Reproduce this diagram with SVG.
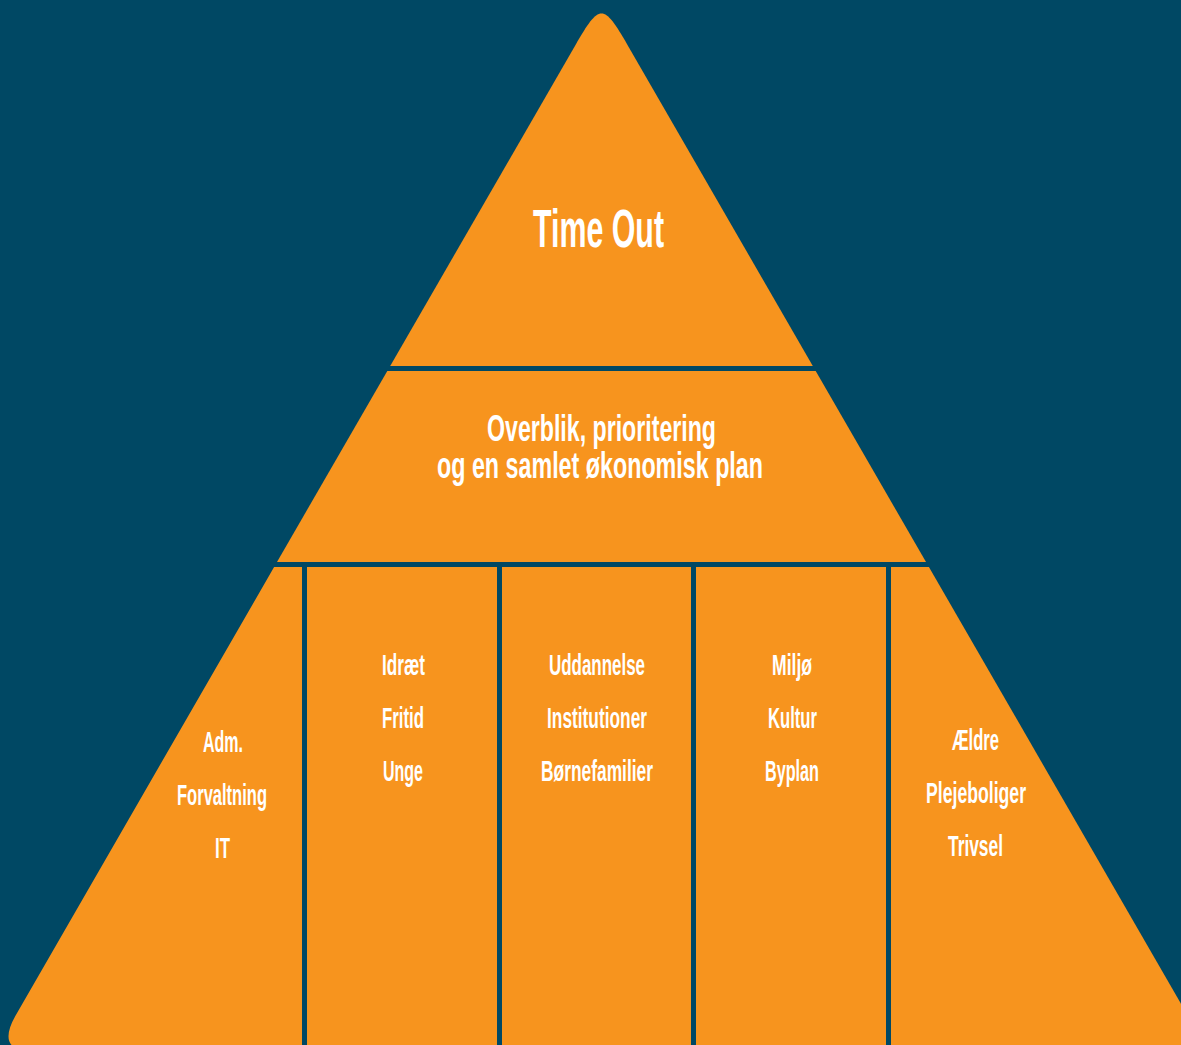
<svg xmlns="http://www.w3.org/2000/svg" width="1181" height="1045" viewBox="0 0 1181 1045">
<style>
.blk{fill:#F7941E;}
.t{fill:#FFFFFF;font-family:"Liberation Sans",Arial,sans-serif;text-anchor:middle;font-weight:bold;}
.big{font-size:54px;}
.mid{font-size:37px;}
.sm{font-size:29px;}
</style>
<rect x="0" y="0" width="1181" height="1045" fill="#004864"/>
<g id="top">
<path class="blk" d="M390.2,366 L575.5,45 C599.7,3.1 603.3,3.1 627.5,45 L812.8,366 Z"/>
<text class="t big" x="598.5" y="247" textLength="131" lengthAdjust="spacingAndGlyphs">Time Out</text>
</g>
<g id="middle">
<path class="blk" d="M387.3,371 L815.7,371 L926,562 L277,562 Z"/>
<text class="t mid" x="601.5" y="441" textLength="229" lengthAdjust="spacingAndGlyphs">Overblik, prioritering</text>
<text class="t mid" x="600" y="478" textLength="326" lengthAdjust="spacingAndGlyphs">og en samlet økonomisk plan</text>
</g>
<g id="col1">
<path class="blk" d="M274.1,567 L302,567 L302,1052 L35,1052 Q-5.5,1052 15.9,1015 Z"/>
<text class="t sm" x="223" y="752" textLength="40" lengthAdjust="spacingAndGlyphs">Adm.</text>
<text class="t sm" x="222" y="805" textLength="90" lengthAdjust="spacingAndGlyphs">Forvaltning</text>
<text class="t sm" x="222.5" y="858" textLength="15" lengthAdjust="spacingAndGlyphs">IT</text>
</g>
<g id="col2">
<rect class="blk" x="307" y="567" width="190" height="485"/>
<text class="t sm" x="403.5" y="675" textLength="43" lengthAdjust="spacingAndGlyphs">Idræt</text>
<text class="t sm" x="403" y="728" textLength="42" lengthAdjust="spacingAndGlyphs">Fritid</text>
<text class="t sm" x="403" y="781" textLength="40" lengthAdjust="spacingAndGlyphs">Unge</text>
</g>
<g id="col3">
<rect class="blk" x="502" y="567" width="189" height="485"/>
<text class="t sm" x="597" y="675" textLength="96" lengthAdjust="spacingAndGlyphs">Uddannelse</text>
<text class="t sm" x="597" y="728" textLength="100" lengthAdjust="spacingAndGlyphs">Institutioner</text>
<text class="t sm" x="597" y="781" textLength="112" lengthAdjust="spacingAndGlyphs">Børnefamilier</text>
</g>
<g id="col4">
<rect class="blk" x="696" y="567" width="190" height="485"/>
<text class="t sm" x="792" y="675" textLength="40" lengthAdjust="spacingAndGlyphs">Miljø</text>
<text class="t sm" x="792.5" y="728" textLength="49" lengthAdjust="spacingAndGlyphs">Kultur</text>
<text class="t sm" x="792" y="781" textLength="54" lengthAdjust="spacingAndGlyphs">Byplan</text>
</g>
<g id="col5">
<path class="blk" d="M891,567 L928.9,567 L1208.9,1052 L891,1052 Z"/>
<text class="t sm" x="975.5" y="750" textLength="47" lengthAdjust="spacingAndGlyphs">Ældre</text>
<text class="t sm" x="976" y="803" textLength="100" lengthAdjust="spacingAndGlyphs">Plejeboliger</text>
<text class="t sm" x="975.5" y="856" textLength="55" lengthAdjust="spacingAndGlyphs">Trivsel</text>
</g>
<g id="connectors"></g>
</svg>
